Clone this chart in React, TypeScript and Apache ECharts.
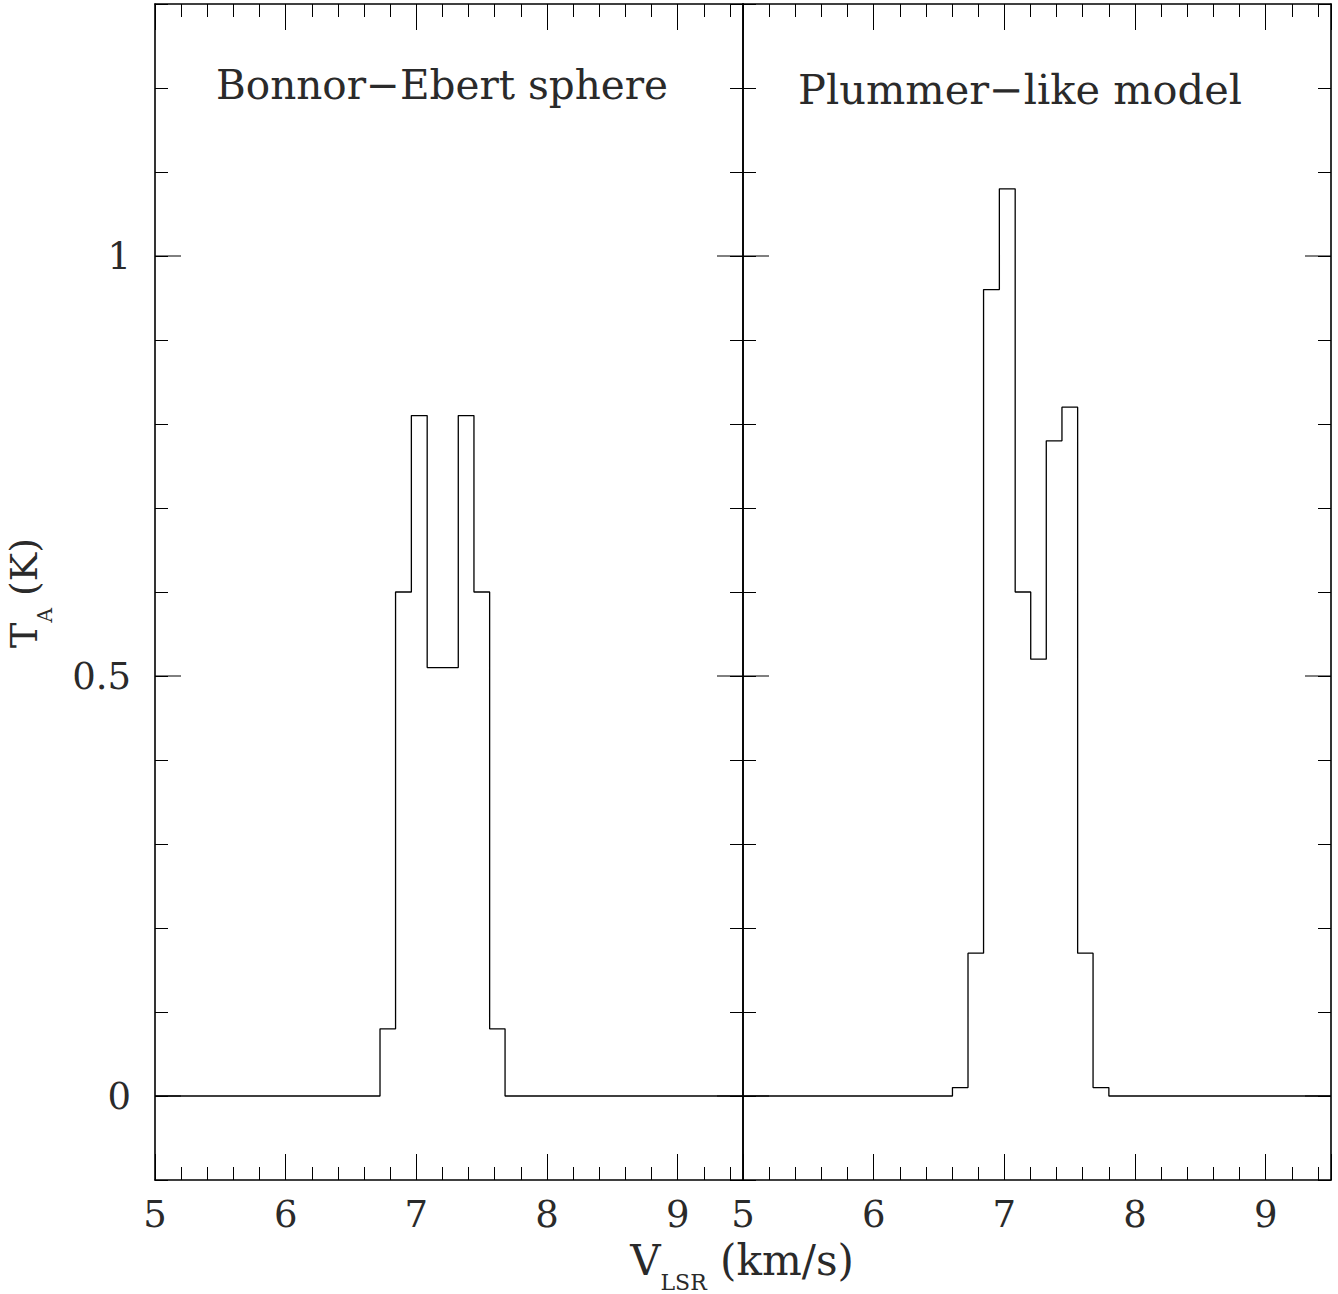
import React, { useEffect, useRef } from 'react';
import * as echarts from 'echarts';

// Channel edges (km/s) – each value holds from its edge up to the next edge
const velocityEdges = [5, 6.603, 6.722, 6.841, 6.962, 7.083, 7.202, 7.321, 7.441, 7.561, 7.679, 7.8, 9.5];
const bonnorEbertTA = [0, 0, 0.08, 0.6, 0.81, 0.51, 0.51, 0.81, 0.6, 0.08, 0, 0, 0];
const plummerTA = [0, 0.01, 0.17, 0.96, 1.08, 0.6, 0.52, 0.78, 0.82, 0.17, 0.01, 0, 0];

const xTickValues = [5, 6, 7, 8, 9];
const xTickLabels = ['5', '6', '7', '8', '9'];
const yMajorValues = [0, 0.5, 1];
const yTickLabels = ['0', '0.5', '1'];
const panelTitles = ['Bonnor\u2212Ebert sphere', 'Plummer\u2212like model'];

const X_MIN = 5;
const X_MAX = 9.5;
const Y_MIN = -0.1;
const Y_MAX = 1.3;

const FONT = "'DejaVu Serif', serif";
const INK = '#2a2a2a';

function labelFor(values: number[], labels: string[], v: number) {
  for (let i = 0; i < values.length; i++) {
    if (Math.abs(values[i] - v) < 1e-6) return labels[i];
  }
  return '';
}

export default function App() {
  const ref = useRef<HTMLDivElement>(null);
  useEffect(() => {
    if (!ref.current) return;
    const chart = echarts.init(ref.current, undefined, { renderer: 'svg' });

    const axisLine = { show: true, onZero: false, lineStyle: { color: '#000', width: 1.6 } };
    const tickStyle = { color: '#000', width: 1 };

    const mkX = (grid: number, pos: 'top' | 'bottom', labels: boolean) => ({
      type: 'value',
      gridIndex: grid,
      position: pos,
      min: X_MIN,
      max: X_MAX,
      interval: 1,
      axisLine,
      axisTick: { show: true, inside: true, length: 26, lineStyle: tickStyle },
      minorTick: { show: true, splitNumber: 5, length: 13, lineStyle: tickStyle },
      splitLine: { show: false },
      minorSplitLine: { show: false },
      axisLabel: {
        show: labels,
        margin: 16,
        fontFamily: FONT,
        fontSize: 37,
        color: INK,
        showMinLabel: true,
        showMaxLabel: true,
        formatter: (v: number) => labelFor(xTickValues, xTickLabels, v),
      },
    });

    const mkY = (grid: number, pos: 'left' | 'right', labels: boolean) => ({
      type: 'value',
      gridIndex: grid,
      position: pos,
      min: Y_MIN,
      max: Y_MAX,
      interval: 0.1,
      axisLine,
      axisTick: { show: true, inside: true, length: 13, lineStyle: tickStyle },
      splitLine: { show: false },
      axisLabel: {
        show: labels,
        margin: 24,
        fontFamily: FONT,
        fontSize: 37,
        color: INK,
        formatter: (v: number) => labelFor(yMajorValues, yTickLabels, v),
      },
    });

    const stepSeries = (idx: number, values: number[]) => ({
      type: 'line',
      xAxisIndex: idx * 2,
      yAxisIndex: idx * 2,
      step: 'end',
      showSymbol: false,
      symbol: 'none',
      data: velocityEdges.map((x, i) => [x, values[i]]),
      lineStyle: { color: '#000', width: 1.3 },
      z: 5,
    });

    const majorTicks = (idx: number) => ({
      type: 'custom',
      xAxisIndex: idx * 2,
      yAxisIndex: idx * 2,
      clip: false,
      silent: true,
      data: yMajorValues.map((v) => [X_MIN, v]),
      renderItem: (_params: any, api: any) => {
        const v = api.value(1);
        const a = api.coord([X_MIN, v]);
        const b = api.coord([X_MAX, v]);
        return {
          type: 'group',
          children: [
            { type: 'line', shape: { x1: a[0], y1: a[1], x2: a[0] + 26, y2: a[1] }, style: { stroke: '#000', lineWidth: 1 } },
            { type: 'line', shape: { x1: b[0] - 26, y1: b[1], x2: b[0], y2: b[1] }, style: { stroke: '#000', lineWidth: 1 } },
          ],
        };
      },
      z: 6,
    });

    const option: any = {
      animation: false,
      backgroundColor: '#fff',
      grid: [
        { left: 155, top: 4, width: 588, height: 1176 },
        { left: 743, top: 4, width: 588, height: 1176 },
      ],
      xAxis: [mkX(0, 'bottom', true), mkX(0, 'top', false), mkX(1, 'bottom', true), mkX(1, 'top', false)],
      yAxis: [mkY(0, 'left', true), mkY(0, 'right', false), mkY(1, 'left', false), mkY(1, 'right', false)],
      series: [stepSeries(0, bonnorEbertTA), stepSeries(1, plummerTA), majorTicks(0), majorTicks(1)],
      graphic: [
        {
          type: 'text',
          left: 216,
          top: 64,
          style: { text: panelTitles[0], fontFamily: FONT, fontSize: 40.5, fill: INK },
        },
        {
          type: 'text',
          left: 798,
          top: 68,
          style: { text: panelTitles[1], fontFamily: FONT, fontSize: 41.5, fill: INK },
        },
        {
          type: 'text',
          x: 30,
          y: 593,
          rotation: Math.PI / 2,
          style: {
            text: '{t|T}{s|A}{t| (K)}',
            align: 'center',
            verticalAlign: 'middle',
            fill: INK,
            rich: {
              t: { fontFamily: FONT, fontSize: 38, fill: INK, verticalAlign: 'top', padding: [0, 0, 12, 0] },
              s: { fontFamily: FONT, fontSize: 20, fill: INK, verticalAlign: 'bottom' },
            },
          },
        },
        {
          type: 'text',
          x: 742,
          y: 1266,
          style: {
            text: '{t|V}{s|LSR}{t| (km/s)}',
            align: 'center',
            verticalAlign: 'middle',
            fill: INK,
            rich: {
              t: { fontFamily: FONT, fontSize: 42, fill: INK, verticalAlign: 'top', padding: [0, 0, 12, 0] },
              s: { fontFamily: FONT, fontSize: 22, fill: INK, verticalAlign: 'bottom' },
            },
          },
        },
      ],
    };
    chart.setOption(option);
    return () => chart.dispose();
  }, []);
  return <div ref={ref} style={{ position: 'absolute', left: 0, top: 0, width: 1338, height: 1294 }} />;
}
